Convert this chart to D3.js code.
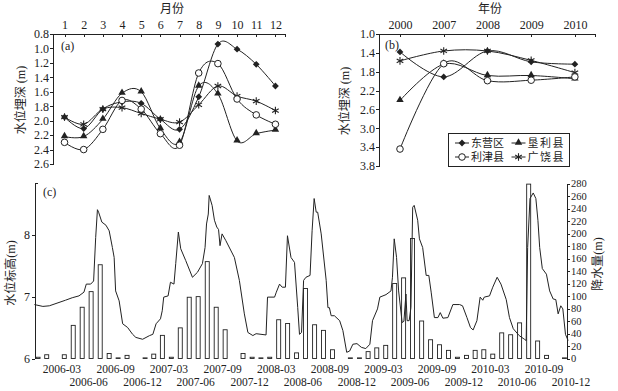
<!DOCTYPE html>
<html>
<head>
<meta charset="utf-8">
<script src="https://cdn.jsdelivr.net/npm/d3@7/dist/d3.min.js"></script>
<style>
body { margin: 0; background: #fff; }
svg text { fill: #222; }
.axis path, .axis line { stroke: #222; shape-rendering: crispEdges; }
</style>
</head>
<body>
<div id="chart"></div>
<script>
// panel (a): monthly depth to water table (m)
const months = [1, 2, 3, 4, 5, 6, 7, 8, 9, 10, 11, 12];
const dongyingMonthly = [1.95, 2.11, 1.84, 1.74, 1.76, 1.98, 2.12, 1.67, 0.94, 1.01, 1.22, 1.52];
const lijinMonthly = [2.30, 2.40, 2.12, 1.72, 1.84, 2.18, 2.34, 1.34, 1.21, 1.70, 1.92, 2.05];
const kenliMonthly = [2.22, 2.22, 1.98, 1.62, 1.60, 2.11, 2.30, 1.52, 1.63, 2.28, 2.18, 2.13];
const guangraoMonthly = [1.95, 2.05, 1.84, 1.82, 1.90, 1.98, 2.02, 1.78, 1.52, 1.66, 1.73, 1.86];
const depthTicksA = [0.8, 1.0, 1.2, 1.4, 1.6, 1.8, 2.0, 2.2, 2.4, 2.6];

// panel (b): yearly depth
const years = ["2000", "2007", "2008", "2009", "2010"];
const dongyingYearly = [1.38, 1.91, 1.36, 1.59, 1.64];
const kenliYearly = [2.41, 1.64, 1.88, 1.88, 1.95];
const lijinYearly = [3.44, 1.63, 1.99, 1.98, 1.91];
const guangraoYearly = [1.57, 1.36, 1.36, 1.56, 1.82];
const depthTicksB = [1.0, 1.4, 1.8, 2.2, 2.6, 3.0, 3.4, 3.8];

const seriesNames = ["东营区", "垦利县", "利津县", "广饶县"];

// panel (c): monthly precipitation from 2006-01, and water level
const precipStart = "2006-01";
const precipitation = [
    2, 6, 0, 6, 53, 82, 107, 150, 8, 1, 5, 0,
    1, 7, 37, 2, 49, 98, 99, 155, 82, 46, 0, 8,
    2, 1, 2, 62, 56, 9, 112, 54, 45, 14, 0, 1,
    1, 11, 17, 21, 120, 129, 192, 60, 30, 22, 13, 2,
    5, 13, 14, 7, 41, 38, 57, 279, 28, 5, 0, 1
];
const waterLevel = [
    ["2006-01-04", 6.87], ["2006-02-02", 6.84], ["2006-02-24", 6.85], ["2006-04-20", 6.94],
    ["2006-05-13", 6.98], ["2006-06-05", 7.01], ["2006-06-22", 7.07], ["2006-06-30", 7.20],
    ["2006-07-15", 7.20], ["2006-07-25", 7.25], ["2006-08-01", 7.95], ["2006-08-07", 8.40],
    ["2006-08-11", 8.36], ["2006-08-22", 8.20], ["2006-09-05", 8.15], ["2006-09-16", 8.06],
    ["2006-09-27", 7.79], ["2006-10-03", 7.63], ["2006-10-08", 7.09], ["2006-10-20", 6.93],
    ["2006-11-01", 6.56], ["2006-11-18", 6.50], ["2006-12-05", 6.39], ["2006-12-16", 6.34],
    ["2007-01-08", 6.31], ["2007-02-01", 6.37], ["2007-02-12", 6.39], ["2007-02-23", 6.56],
    ["2007-03-10", 6.64], ["2007-03-16", 6.77], ["2007-03-21", 6.99], ["2007-04-05", 7.01],
    ["2007-04-13", 7.23], ["2007-04-25", 7.20], ["2007-05-01", 7.53], ["2007-05-10", 8.04],
    ["2007-05-18", 7.77], ["2007-06-04", 7.58], ["2007-06-27", 7.31], ["2007-07-14", 7.39],
    ["2007-07-31", 7.53], ["2007-08-09", 7.79], ["2007-08-14", 8.17], ["2007-08-20", 8.33],
    ["2007-08-23", 8.63], ["2007-09-02", 8.47], ["2007-09-10", 8.23], ["2007-09-18", 8.12],
    ["2007-09-24", 8.08], ["2007-09-29", 7.82], ["2007-10-06", 8.01], ["2007-10-19", 7.90],
    ["2007-11-17", 7.63], ["2007-12-04", 7.26], ["2007-12-21", 6.72], ["2008-01-02", 6.42],
    ["2008-01-19", 6.37], ["2008-01-30", 6.40], ["2008-03-04", 6.38], ["2008-03-09", 6.99],
    ["2008-04-02", 6.99], ["2008-04-08", 7.07], ["2008-04-19", 7.20], ["2008-04-28", 7.15],
    ["2008-05-09", 7.15], ["2008-05-16", 7.98], ["2008-05-28", 7.63], ["2008-06-09", 7.55],
    ["2008-06-20", 6.82], ["2008-06-26", 6.39], ["2008-07-03", 6.42], ["2008-07-10", 7.26],
    ["2008-07-18", 7.31], ["2008-08-01", 7.34], ["2008-08-08", 8.06], ["2008-08-15", 8.58],
    ["2008-08-22", 8.36], ["2008-08-27", 8.36], ["2008-09-08", 8.01], ["2008-09-25", 7.26],
    ["2008-10-01", 6.82], ["2008-10-06", 6.82], ["2008-10-12", 6.69], ["2008-10-23", 6.69],
    ["2008-11-10", 6.61], ["2008-11-21", 6.45], ["2008-12-04", 6.10], ["2008-12-14", 6.12],
    ["2008-12-25", 6.23], ["2009-01-08", 6.24], ["2009-01-23", 6.18], ["2009-02-07", 6.16],
    ["2009-02-21", 6.23], ["2009-03-02", 6.61], ["2009-03-19", 6.80], ["2009-03-27", 6.99],
    ["2009-04-17", 7.03], ["2009-05-04", 7.09], ["2009-05-09", 7.31], ["2009-05-15", 7.93],
    ["2009-05-23", 7.63], ["2009-05-30", 7.09], ["2009-06-11", 6.58], ["2009-06-17", 6.60],
    ["2009-06-24", 7.04], ["2009-06-28", 6.61], ["2009-07-05", 6.61], ["2009-07-11", 6.82],
    ["2009-07-17", 8.44], ["2009-07-22", 8.47], ["2009-08-03", 8.23], ["2009-08-09", 7.93],
    ["2009-08-20", 7.79], ["2009-09-01", 7.34], ["2009-09-10", 7.34], ["2009-09-18", 7.07],
    ["2009-09-29", 6.66], ["2009-10-11", 6.66], ["2009-10-19", 6.74], ["2009-10-28", 6.65],
    ["2009-11-14", 6.66], ["2009-12-01", 6.87], ["2009-12-24", 6.87], ["2010-01-03", 6.85],
    ["2010-01-18", 6.66], ["2010-01-30", 6.50], ["2010-02-08", 6.46], ["2010-02-21", 6.61],
    ["2010-03-04", 6.99], ["2010-03-13", 6.94], ["2010-03-18", 6.99], ["2010-04-05", 7.01],
    ["2010-04-16", 7.15], ["2010-05-01", 7.31], ["2010-05-14", 7.20], ["2010-06-01", 6.95],
    ["2010-06-12", 6.66], ["2010-06-25", 6.48], ["2010-07-15", 6.37], ["2010-08-02", 6.31],
    ["2010-08-08", 6.29], ["2010-08-13", 7.79], ["2010-08-21", 8.58], ["2010-09-01", 8.67],
    ["2010-09-10", 8.58], ["2010-09-17", 8.23], ["2010-09-23", 7.79], ["2010-10-02", 7.45],
    ["2010-10-16", 7.36], ["2010-10-27", 7.09], ["2010-11-08", 6.96], ["2010-11-17", 6.95],
    ["2010-11-25", 6.72], ["2010-12-04", 6.85], ["2010-12-11", 6.80], ["2010-12-20", 6.39],
    ["2010-12-29", 6.29]
];
const dateTicks = [
    "2006-03", "2006-06", "2006-09", "2006-12", "2007-03", "2007-06", "2007-09", "2007-12",
    "2008-03", "2008-06", "2008-09", "2008-12", "2009-03", "2009-06", "2009-09", "2009-12",
    "2010-03", "2010-06", "2010-09", "2010-12"
];
const levelTicks = [6, 7, 8];
const precipTicks = [0, 20, 40, 60, 80, 100, 120, 140, 160, 180, 200, 220, 240, 260, 280];

const FONT = "'Liberation Serif', 'Times New Roman', 'DejaVu Serif', 'Noto Sans CJK SC', serif";


class GroundwaterChart{

    constructor( container ){
        this.container = container;
        this.width = 618;
        this.height = 391;
        this.ink = "#222";
        this.init();
    }

    init(){
        this.createSvg();
        this.drawMonthlyPanel();
        this.drawYearlyPanel();
        this.drawLegend();
        this.drawLevelPanel();
        // every text in one serif face, CJK falls back to Noto
        this.svg.selectAll("text").style("font-family", FONT);
    }

    createSvg(){
        this.svg = d3.select(this.container).append("svg")
        .attr("width", this.width)
        .attr("height", this.height);
    }

    // filled diamond, filled triangle, open circle, asterisk
    drawMarker( g, kind, x, y ){
        if( kind === 0 ){
            g.append("path")
            .attr("d", d3.symbol(d3.symbolSquare, 23)())
            .attr("transform", `translate(${x},${y}) rotate(45)`)
            .attr("fill", this.ink);
        }else if( kind === 1 ){
            g.append("path")
            .attr("d", d3.symbol(d3.symbolTriangle, 24)())
            .attr("transform", `translate(${x},${y - 0.5})`)
            .attr("fill", this.ink);
        }else if( kind === 2 ){
            g.append("circle")
            .attr("cx", x)
            .attr("cy", y)
            .attr("r", 3.3)
            .attr("fill", "#fff")
            .attr("stroke", this.ink)
            .attr("stroke-width", 1);
        }else{
            [90, 30, 150].forEach( a => {
                let dx = 3.8 * Math.cos(a * Math.PI / 180);
                let dy = 3.8 * Math.sin(a * Math.PI / 180);
                g.append("line")
                .attr("x1", x - dx).attr("y1", y - dy)
                .attr("x2", x + dx).attr("y2", y + dy)
                .attr("stroke", this.ink)
                .attr("stroke-width", 1.1);
            });
        }
    }

    drawSeries( g, xs, ys, values, kind ){
        let pts = values.map( (v, i) => [xs[i], ys(v)] );
        g.append("path")
        .attr("d", d3.line().curve(d3.curveCardinal)(pts))
        .attr("fill", "none")
        .attr("stroke", this.ink)
        .attr("stroke-width", 1);
        pts.forEach( p => this.drawMarker(g, kind, p[0], p[1]) );
    }

    depthAxes( g, x, y, tickIdx, tickLabels, yTicks, title, yTitle, yTitleX ){

        g.append("g")
        .attr("class", "axis")
        .attr("transform", `translate(0,${y.range()[0]})`)
        .call(d3.axisTop(x).tickValues(tickIdx).tickFormat( (d, i) => tickLabels[i] ).tickSizeInner(-3).tickSizeOuter(-3).tickPadding(5))
        .call( a => a.selectAll("text").attr("font-size", 12) );

        g.append("g")
        .attr("class", "axis")
        .attr("transform", `translate(${x.range()[0]},0)`)
        .call(d3.axisLeft(y).tickValues(yTicks).tickFormat(d3.format(".1f")).tickSize(3).tickSizeOuter(0).tickPadding(1))
        .call( a => a.selectAll("text").attr("font-size", 12) );

        g.append("text")
        .attr("x", (x.range()[0] + x.range()[1]) / 2 + 3)
        .attr("y", 13)
        .attr("text-anchor", "middle")
        .attr("font-size", 12)
        .text(title);

        g.append("text")
        .attr("transform", `translate(${yTitleX},${(y.range()[0] + y.range()[1]) / 2 + 1}) rotate(-90)`)
        .attr("text-anchor", "middle")
        .attr("font-size", 12)
        .text(yTitle);
    }

    drawMonthlyPanel(){
        let g = this.svg.append("g");
        let x = d3.scaleLinear().domain([0.4, 12.5]).range([53, 285]);
        let y = d3.scaleLinear().domain([0.8, 2.6]).range([34, 164]);

        this.depthAxes(g, x, y, months, months, depthTicksA, "月份", "水位埋深 (m)", 25);

        g.append("text")
        .attr("x", 61)
        .attr("y", 50)
        .attr("font-size", 12)
        .text("(a)");

        let xs = months.map( m => x(m) );
        this.drawSeries(g, xs, y, guangraoMonthly, 3);
        this.drawSeries(g, xs, y, kenliMonthly, 1);
        this.drawSeries(g, xs, y, dongyingMonthly, 0);
        this.drawSeries(g, xs, y, lijinMonthly, 2);
    }

    drawYearlyPanel(){
        let g = this.svg.append("g");
        let idx = years.map( (d, i) => i );
        let x = d3.scaleLinear().domain([-0.48, 4.46]).range([379, 595]);
        let y = d3.scaleLinear().domain([1.0, 3.8]).range([34, 166]);

        this.depthAxes(g, x, y, idx, years, depthTicksB, "年份", "水位埋深 (m)", 349);

        g.append("text")
        .attr("x", 385)
        .attr("y", 49)
        .attr("font-size", 12)
        .text("(b)");

        let xs = idx.map( i => x(i) );
        this.drawSeries(g, xs, y, guangraoYearly, 3);
        this.drawSeries(g, xs, y, kenliYearly, 1);
        this.drawSeries(g, xs, y, dongyingYearly, 0);
        this.drawSeries(g, xs, y, lijinYearly, 2);
    }

    drawLegend(){
        let g = this.svg.append("g");
        g.append("rect")
        .attr("x", 448.5)
        .attr("y", 133.5)
        .attr("width", 121)
        .attr("height", 33)
        .attr("fill", "#fff")
        .attr("stroke", this.ink)
        .attr("stroke-width", 1);

        // order in the box: 东营区 垦利县 / 利津县 广饶县
        let kinds = [0, 1, 2, 3];
        kinds.forEach( (k, i) => {
            let cx = (i % 2 === 0) ? 462 : 518.5;
            let cy = (i < 2) ? 143 : 157;
            g.append("line")
            .attr("x1", cx - 7).attr("x2", cx + 7)
            .attr("y1", cy).attr("y2", cy)
            .attr("stroke", this.ink);
            this.drawMarker(g, k, cx, cy);
            g.append("text")
            .attr("x", cx + 9)
            .attr("y", cy + 4)
            .attr("font-size", 11)
            .attr("letter-spacing", (i % 2 === 0) ? 0 : 1.5)
            .text(seriesNames[k]);
        });
    }

    drawLevelPanel(){
        let g = this.svg.append("g");
        let parseDay = d3.timeParse("%Y-%m-%d");
        let parseMonth = d3.timeParse("%Y-%m");
        let start = parseMonth(precipStart);

        let x = d3.scaleTime()
        .domain([start, d3.timeMonth.offset(start, precipitation.length)])
        .range([33.5, 569]);
        let yLevel = d3.scaleLinear().domain([6, 8]).range([358.5, 234.5]);
        let yRain = d3.scaleLinear().domain([0, 280]).range([358.5, 183.5]);

        // precipitation bars
        g.selectAll("rect.rain")
        .data(precipitation)
        .enter().append("rect")
        .attr("class", "rain")
        .attr("x", (d, i) => {
            let m = d3.timeMonth.offset(start, i);
            return (x(m) + x(d3.timeMonth.offset(m, 1))) / 2 - 2;
        })
        .attr("y", d => yRain(d))
        .attr("width", 4)
        .attr("height", d => yRain(0) - yRain(d))
        .attr("fill", "#fff")
        .attr("stroke", this.ink)
        .attr("stroke-width", 0.9);

        // water level line
        let line = d3.line()
        .x( d => x(parseDay(d[0])) )
        .y( d => yLevel(d[1]) );
        g.append("path")
        .datum(waterLevel)
        .attr("d", line)
        .attr("fill", "none")
        .attr("stroke", this.ink)
        .attr("stroke-width", 1);

        // left axis
        let left = g.append("g")
        .attr("class", "axis")
        .attr("transform", "translate(35,0)");
        left.call(d3.axisLeft(yLevel).tickValues(levelTicks).tickFormat(d3.format("d")).tickSize(3).tickSizeOuter(0).tickPadding(2))
        .call( a => a.selectAll("text").attr("font-size", 12) );
        left.select(".domain").remove();
        left.append("line")
        .attr("x1", 0).attr("x2", 0)
        .attr("y1", yRain.range()[1]).attr("y2", yLevel(6))
        .attr("stroke", this.ink);
        left.append("line")
        .attr("x1", 0).attr("x2", 3)
        .attr("y1", yRain.range()[1]).attr("y2", yRain.range()[1])
        .attr("stroke", this.ink);

        // right axis
        g.append("g")
        .attr("class", "axis")
        .attr("transform", "translate(567,0)")
        .call(d3.axisRight(yRain).tickValues(precipTicks).tickSize(3).tickSizeOuter(0).tickPadding(1))
        .call( a => a.selectAll("text").attr("font-size", 10.5) );

        // date labels in two rows
        g.selectAll("text.date")
        .data(dateTicks)
        .enter().append("text")
        .attr("class", "date")
        .attr("x", d => x(d3.timeMonth.offset(parseMonth(d), 1)) + 2)
        .attr("y", (d, i) => (i % 2 === 0) ? 373 : 386)
        .attr("text-anchor", "middle")
        .attr("font-size", 11.5)
        .text(d => d);

        g.append("text")
        .attr("x", 43)
        .attr("y", 196)
        .attr("font-size", 12)
        .text("(c)");

        g.append("text")
        .attr("transform", "translate(15,273) rotate(-90)")
        .attr("text-anchor", "middle")
        .attr("font-size", 12)
        .text("水位标高(m)");

        g.append("text")
        .attr("transform", "translate(602,264) rotate(-90)")
        .attr("text-anchor", "middle")
        .attr("font-size", 12)
        .text("降水量(m)");
    }
};

var chart = new GroundwaterChart("#chart");
</script>
</body>
</html>
